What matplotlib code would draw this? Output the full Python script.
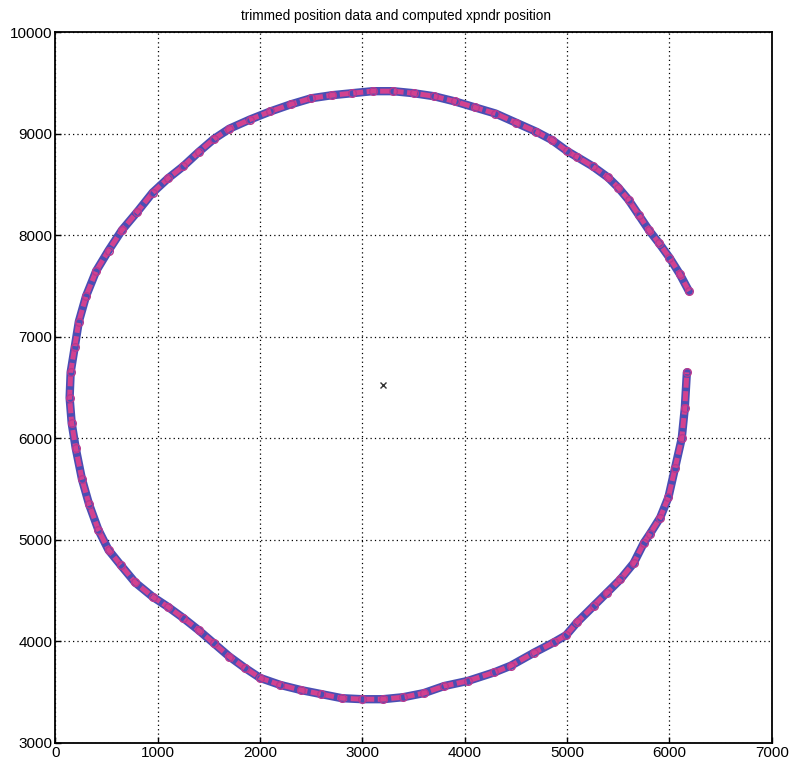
import matplotlib
matplotlib.use("Agg")
import matplotlib.pyplot as plt

plt.rcParams['font.family'] = ['Liberation Sans', 'DejaVu Sans']

# trimmed position track (metres)
track_x = [6190, 6100, 6000, 5900, 5800, 5700, 5600, 5500, 5400, 5250, 5100, 5000,
           4850, 4700, 4500, 4300, 4100, 3900, 3700, 3500, 3300, 3100, 2900, 2700,
           2500, 2300, 2100, 1900, 1700, 1550, 1400, 1250, 1100, 950, 800, 650,
           520, 400, 300, 230, 190, 150, 140, 160, 200, 260, 330, 420, 520, 640,
           780, 950, 1100, 1250, 1400, 1550, 1700, 1850, 2000, 2200, 2400, 2600,
           2800, 3000, 3200, 3400, 3600, 3800, 4030, 4290, 4450, 4680, 4870, 4990,
           5100, 5260, 5390, 5520, 5650, 5750, 5810, 5910, 5990, 6055, 6120, 6150,
           6170]
track_y = [7450, 7620, 7780, 7920, 8050, 8200, 8350, 8470, 8570, 8680, 8770, 8830,
           8940, 9020, 9110, 9200, 9260, 9320, 9370, 9400, 9420, 9420, 9400, 9380,
           9350, 9290, 9220, 9140, 9050, 8950, 8820, 8680, 8560, 8420, 8230, 8050,
           7850, 7650, 7400, 7150, 6900, 6650, 6400, 6150, 5900, 5600, 5350, 5100,
           4900, 4750, 4580, 4440, 4340, 4230, 4110, 3980, 3850, 3740, 3640, 3570,
           3520, 3480, 3440, 3430, 3430, 3450, 3490, 3560, 3610, 3695, 3760, 3890,
           3990, 4060, 4190, 4350, 4480, 4610, 4770, 4970, 5060, 5220, 5420, 5710,
           6000, 6300, 6650]

# computed transponder position
xpndr_x = [3200]
xpndr_y = [6530]

title = "trimmed position data and computed xpndr position"
xticks = [0, 1000, 2000, 3000, 4000, 5000, 6000, 7000]
yticks = [3000, 4000, 5000, 6000, 7000, 8000, 9000, 10000]

fig = plt.figure(figsize=(7.90, 7.69), dpi=100)
ax = fig.add_axes([0.070, 0.034, 0.907, 0.924])

# blue trace underneath, magenta circles on top
ax.plot(track_x, track_y, color='#4a4eb4', lw=6.0, solid_capstyle='round',
        solid_joinstyle='round', zorder=3)
ax.plot(track_x, track_y, color='#d2428f', lw=3.6, ls=(0, (2.0, 0.7)), zorder=4)
ax.plot(track_x, track_y, ls='none', marker='o', ms=5.5, mfc='none', mec='#b8398f',
        mew=1.0, zorder=5)
ax.plot(xpndr_x, xpndr_y, ls='none', marker='x', ms=4, color='#333333', mew=1.0,
        zorder=6)

ax.set_xlim(0, 7000)
ax.set_ylim(3000, 10000)
ax.set_xticks(xticks)
ax.set_yticks(yticks)
ax.set_xticklabels([str(v) for v in xticks])
ax.set_yticklabels([str(v) for v in yticks])
ax.tick_params(direction='in', length=4, width=1, labelsize=11, colors='black', pad=2)
ax.grid(True, color='black', ls=(0, (1, 2.5)), lw=0.9)
ax.set_axisbelow(True)
for s in ax.spines.values():
    s.set_linewidth(1.3)
    s.set_color('black')
ax.set_title(title, fontsize=9.8, pad=9, x=0.476)

fig.savefig("out.png", dpi=100)
